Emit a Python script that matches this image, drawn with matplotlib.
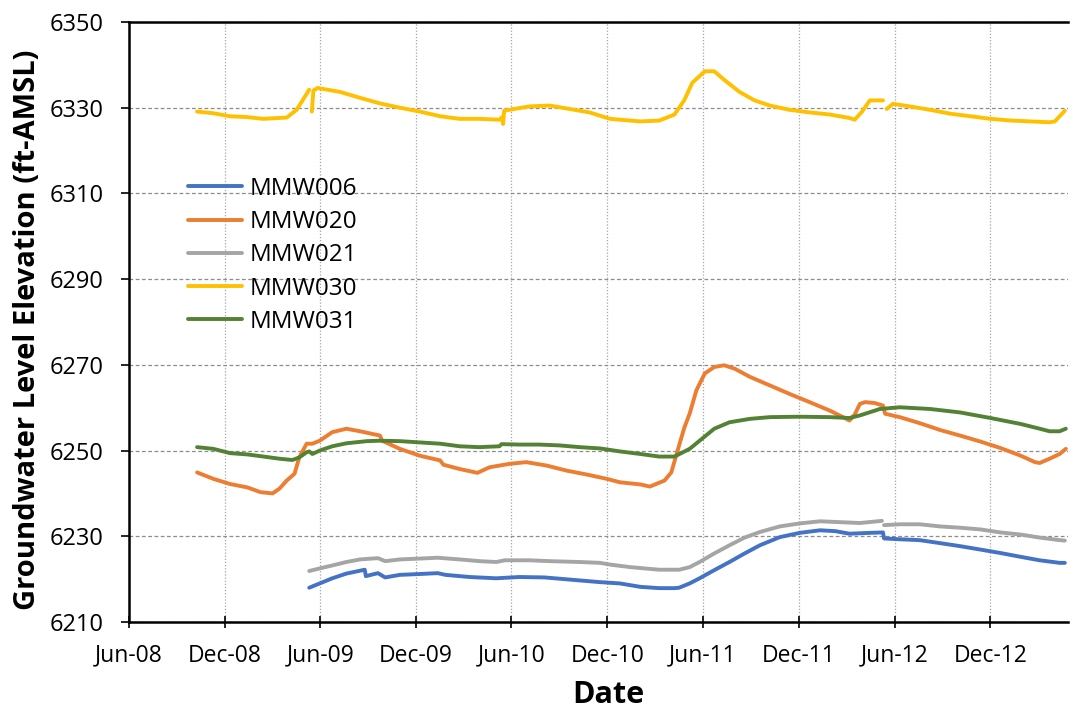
import matplotlib.pyplot as plt
import matplotlib.dates as mdates
import numpy as np
import pandas as pd


# Data

mmw006_dates = [
    "2009-05-11", "2009-05-31", "2009-06-24", "2009-07-21", "2009-08-25",
    "2009-08-27", "2009-09-19", "2009-10-03", "2009-10-31", "2009-12-08",
    "2010-01-11", "2010-01-26", "2010-03-13", "2010-05-03", "2010-06-16",
    "2010-08-03", "2010-09-20", "2010-11-17", "2010-12-25", "2011-02-02",
    "2011-03-10", "2011-04-08", "2011-04-17", "2011-05-07", "2011-05-26",
    "2011-06-23", "2011-07-22", "2011-08-20", "2011-09-18", "2011-10-26",
    "2011-12-03", "2012-01-11", "2012-02-09", "2012-03-07", "2012-04-15",
    "2012-05-10", "2012-05-12", "2012-06-11", "2012-07-19", "2012-08-27",
    "2012-10-04", "2012-11-12", "2012-12-20", "2013-01-28", "2013-03-05",
    "2013-04-12", "2013-04-22",
]
mmw006_values = [
    6218.0, 6219.0, 6220.2, 6221.3, 6222.2,
    6220.7, 6221.4, 6220.4, 6221.0, 6221.2,
    6221.4, 6221.0, 6220.5, 6220.2, 6220.5,
    6220.4, 6219.9, 6219.3, 6219.0, 6218.2,
    6217.9, 6217.9, 6218.0, 6219.0, 6220.2,
    6222.1, 6224.0, 6226.0, 6227.9, 6229.8,
    6230.8, 6231.4, 6231.2, 6230.6, 6230.8,
    6230.9, 6229.5, 6229.3, 6229.1, 6228.4,
    6227.7, 6226.9, 6226.1, 6225.2, 6224.4,
    6223.8, 6223.8,
]

mmw020_dates = [
    "2008-10-09", "2008-11-09", "2008-12-11", "2009-01-13", "2009-02-07",
    "2009-03-02", "2009-03-15", "2009-03-29", "2009-04-13", "2009-04-22",
    "2009-05-06", "2009-05-17", "2009-05-31", "2009-06-24", "2009-07-21",
    "2009-08-16", "2009-09-23", "2009-09-27", "2009-10-31", "2009-12-08",
    "2010-01-16", "2010-01-22", "2010-02-22", "2010-03-28", "2010-04-20",
    "2010-05-28", "2010-06-29", "2010-08-07", "2010-09-15", "2010-10-23",
    "2010-11-30", "2010-12-25", "2011-02-02", "2011-02-20", "2011-03-20",
    "2011-04-02", "2011-04-14", "2011-04-27", "2011-05-07", "2011-05-20",
    "2011-06-05", "2011-06-23", "2011-07-12", "2011-08-01", "2011-08-30",
    "2011-10-07", "2011-11-14", "2011-12-22", "2012-01-30", "2012-02-27",
    "2012-03-07", "2012-03-17", "2012-03-27", "2012-04-06", "2012-04-24",
    "2012-05-10", "2012-05-14", "2012-06-11", "2012-07-19", "2012-08-27",
    "2012-10-04", "2012-11-12", "2012-12-20", "2013-01-28", "2013-02-24",
    "2013-03-05", "2013-03-24", "2013-04-12", "2013-04-24",
]
mmw020_values = [
    6244.9, 6243.4, 6242.2, 6241.4, 6240.3,
    6240.0, 6241.1, 6243.0, 6244.6, 6248.4,
    6251.6, 6251.6, 6252.3, 6254.3, 6255.1,
    6254.5, 6253.5, 6252.3, 6250.4, 6248.8,
    6247.7, 6246.7, 6245.7, 6244.8, 6246.1,
    6246.9, 6247.3, 6246.5, 6245.3, 6244.4,
    6243.4, 6242.6, 6242.1, 6241.6, 6243.0,
    6244.9, 6250.0, 6255.4, 6258.6, 6264.1,
    6268.0, 6269.5, 6269.9, 6269.1, 6267.2,
    6265.2, 6263.2, 6261.3, 6259.3, 6257.6,
    6257.0, 6258.4, 6260.9, 6261.3, 6261.1,
    6260.5, 6258.6, 6257.8, 6256.4, 6254.8,
    6253.5, 6252.1, 6250.6, 6248.8, 6247.3,
    6247.1, 6248.1, 6249.2, 6250.4,
]

mmw021_dates = [
    "2009-05-11", "2009-05-31", "2009-06-24", "2009-07-21", "2009-08-16",
    "2009-09-19", "2009-10-03", "2009-10-31", "2009-12-08", "2010-01-11",
    "2010-02-22", "2010-04-01", "2010-05-03", "2010-05-19", "2010-07-05",
    "2010-08-13", "2010-10-09", "2010-11-17", "2010-12-06", "2011-01-14",
    "2011-03-10", "2011-04-17", "2011-05-07", "2011-05-26", "2011-06-23",
    "2011-07-22", "2011-08-20", "2011-09-18", "2011-10-26", "2011-12-03",
    "2012-01-11", "2012-02-17", "2012-03-27", "2012-05-08", "2012-05-10",
    "2012-05-12", "2012-06-11", "2012-07-19", "2012-08-27", "2012-10-04",
    "2012-11-12", "2012-12-20", "2013-01-28", "2013-03-05", "2013-04-12",
    "2013-04-22",
]
mmw021_values = [
    6221.9, 6222.5, 6223.2, 6224.0, 6224.6,
    6224.9, 6224.2, 6224.6, 6224.8, 6225.0,
    6224.6, 6224.2, 6224.0, 6224.4, 6224.4,
    6224.2, 6224.0, 6223.8, 6223.4, 6222.8,
    6222.2, 6222.2, 6222.8, 6224.0, 6226.0,
    6227.9, 6229.7, 6231.0, 6232.3, 6233.0,
    6233.5, 6233.3, 6233.1, 6233.6, np.nan,
    6232.6, 6232.8, 6232.8, 6232.3, 6232.0,
    6231.6, 6230.9, 6230.4, 6229.7, 6229.1,
    6229.0,
]

mmw030_dates = [
    "2008-10-09", "2008-11-09", "2008-12-11", "2009-01-13", "2009-02-12",
    "2009-03-29", "2009-04-17", "2009-05-11", "2009-05-14", "2009-05-16",
    "2009-05-19", "2009-05-27", "2009-07-08", "2009-08-16", "2009-09-23",
    "2009-10-31", "2009-12-08", "2010-01-16", "2010-02-22", "2010-04-01",
    "2010-05-09", "2010-05-14", "2010-05-16", "2010-05-18", "2010-06-01",
    "2010-07-05", "2010-08-13", "2010-09-20", "2010-10-28", "2010-12-06",
    "2010-12-25", "2011-02-02", "2011-03-10", "2011-04-08", "2011-04-27",
    "2011-05-12", "2011-06-05", "2011-06-23", "2011-07-12", "2011-08-10",
    "2011-09-08", "2011-10-07", "2011-11-14", "2011-12-22", "2012-01-30",
    "2012-03-07", "2012-03-17", "2012-03-31", "2012-04-15", "2012-05-10",
    "2012-05-13", "2012-05-17", "2012-05-29", "2012-06-30", "2012-08-08",
    "2012-09-15", "2012-10-24", "2012-12-01", "2013-01-09", "2013-02-15",
    "2013-03-24", "2013-04-03", "2013-04-22",
]
mmw030_values = [
    6329.1, 6328.7, 6328.0, 6327.8, 6327.4,
    6327.7, 6329.5, 6334.2, np.nan, 6329.1,
    6334.0, 6334.6, 6333.7, 6332.3, 6331.0,
    6330.0, 6329.1, 6328.0, 6327.4, 6327.4,
    6327.2, 6327.8, 6326.2, 6329.3, 6329.6,
    6330.3, 6330.5, 6329.7, 6328.9, 6327.4,
    6327.2, 6326.8, 6327.0, 6328.4, 6331.8,
    6335.8, 6338.5, 6338.5, 6336.5, 6333.7,
    6331.7, 6330.5, 6329.5, 6328.9, 6328.4,
    6327.6, 6327.2, 6329.1, 6331.7, 6331.7,
    np.nan, 6329.7, 6330.9, 6330.3, 6329.5,
    6328.6, 6328.0, 6327.4, 6327.0, 6326.8,
    6326.6, 6326.8, 6329.3,
]

mmw031_dates = [
    "2008-10-09", "2008-11-09", "2008-12-11", "2009-01-13", "2009-02-07",
    "2009-03-15", "2009-04-09", "2009-04-22", "2009-05-06", "2009-05-11",
    "2009-05-17", "2009-05-31", "2009-06-24", "2009-07-21", "2009-08-29",
    "2009-09-23", "2009-10-31", "2009-12-08", "2010-01-16", "2010-02-22",
    "2010-04-01", "2010-05-09", "2010-05-13", "2010-06-16", "2010-07-24",
    "2010-09-01", "2010-10-09", "2010-11-17", "2010-12-25", "2011-02-02",
    "2011-03-10", "2011-04-08", "2011-05-07", "2011-05-26", "2011-06-23",
    "2011-07-22", "2011-08-30", "2011-10-07", "2011-12-03", "2012-01-30",
    "2012-03-07", "2012-03-27", "2012-05-04", "2012-06-11", "2012-08-08",
    "2012-10-04", "2012-12-01", "2013-01-28", "2013-03-05", "2013-03-24",
    "2013-04-12", "2013-04-24",
]
mmw031_values = [
    6250.8, 6250.4, 6249.4, 6249.1, 6248.7,
    6248.1, 6247.8, 6248.4, 6249.6, 6249.8,
    6249.2, 6250.0, 6251.0, 6251.7, 6252.2,
    6252.3, 6252.2, 6251.9, 6251.6, 6251.0,
    6250.8, 6251.0, 6251.5, 6251.4, 6251.4,
    6251.2, 6250.8, 6250.5, 6249.8, 6249.2,
    6248.6, 6248.6, 6250.4, 6252.3, 6255.1,
    6256.6, 6257.4, 6257.8, 6257.9, 6257.8,
    6257.6, 6258.2, 6259.7, 6260.1, 6259.7,
    6258.9, 6257.6, 6256.2, 6255.1, 6254.5,
    6254.5, 6255.1,
]

series = [
    ("MMW006", mmw006_dates, mmw006_values, "#4472C4"),
    ("MMW020", mmw020_dates, mmw020_values, "#ED7D31"),
    ("MMW021", mmw021_dates, mmw021_values, "#A5A5A5"),
    ("MMW030", mmw030_dates, mmw030_values, "#FFC000"),
    ("MMW031", mmw031_dates, mmw031_values, "#548235"),
]

x_start = pd.Timestamp("2008-06-01")
x_end = pd.Timestamp("2013-04-28")


# Plot

plt.rcParams["font.family"] = ["Open Sans", "DejaVu Sans"]

fig = plt.figure(figsize=(10.73, 7.09), dpi=100)
ax = fig.add_axes([0.1202, 0.1227, 0.8751, 0.8463])

for name, dates, values, color in series:
    ax.plot(pd.to_datetime(dates), values, color=color, lw=2.8,
            label=name, solid_capstyle="round")

ax.set_xlim(x_start, x_end)
ax.set_ylim(6210, 6350)
ax.set_yticks(np.arange(6210, 6351, 20))

ax.xaxis.set_major_locator(mdates.MonthLocator(bymonth=[6, 12], bymonthday=1))
ax.xaxis.set_major_formatter(mdates.DateFormatter("%b-%y"))

# Grid: dashed horizontal, dotted vertical
ax.yaxis.grid(True, linestyle=(0, (3, 2)), color="#8c8c8c", lw=0.9)
ax.xaxis.grid(True, linestyle=(0, (1, 1.5)), color="#a6a6a6", lw=0.9)
ax.set_axisbelow(True)

ax.spines["right"].set_visible(False)
for side in ["left", "bottom", "top"]:
    ax.spines[side].set_linewidth(1.8)
    ax.spines[side].set_color("black")

ax.tick_params(axis="x", direction="inout", length=9, width=1.2, pad=11,
               labelsize=16.5)
ax.tick_params(axis="y", direction="out", length=6, width=1.2, pad=12,
               labelsize=17)

ax.set_xlabel("Date", fontsize=22, fontweight="bold", va="center")
ax.xaxis.set_label_coords(0.51, -0.122)
ax.set_ylabel("Groundwater Level Elevation (ft-AMSL)", fontsize=21,
              fontweight="bold", va="center", ha="center")
ax.yaxis.set_label_coords(-0.1076, 0.487)

ax.legend(loc="upper left", bbox_to_anchor=(0.053, 0.758), frameon=False,
          prop={"size": 17.5}, handlelength=2.2,
          handletextpad=0.3, labelspacing=0.38, borderaxespad=0)

fig.savefig("out.png", dpi=100)
